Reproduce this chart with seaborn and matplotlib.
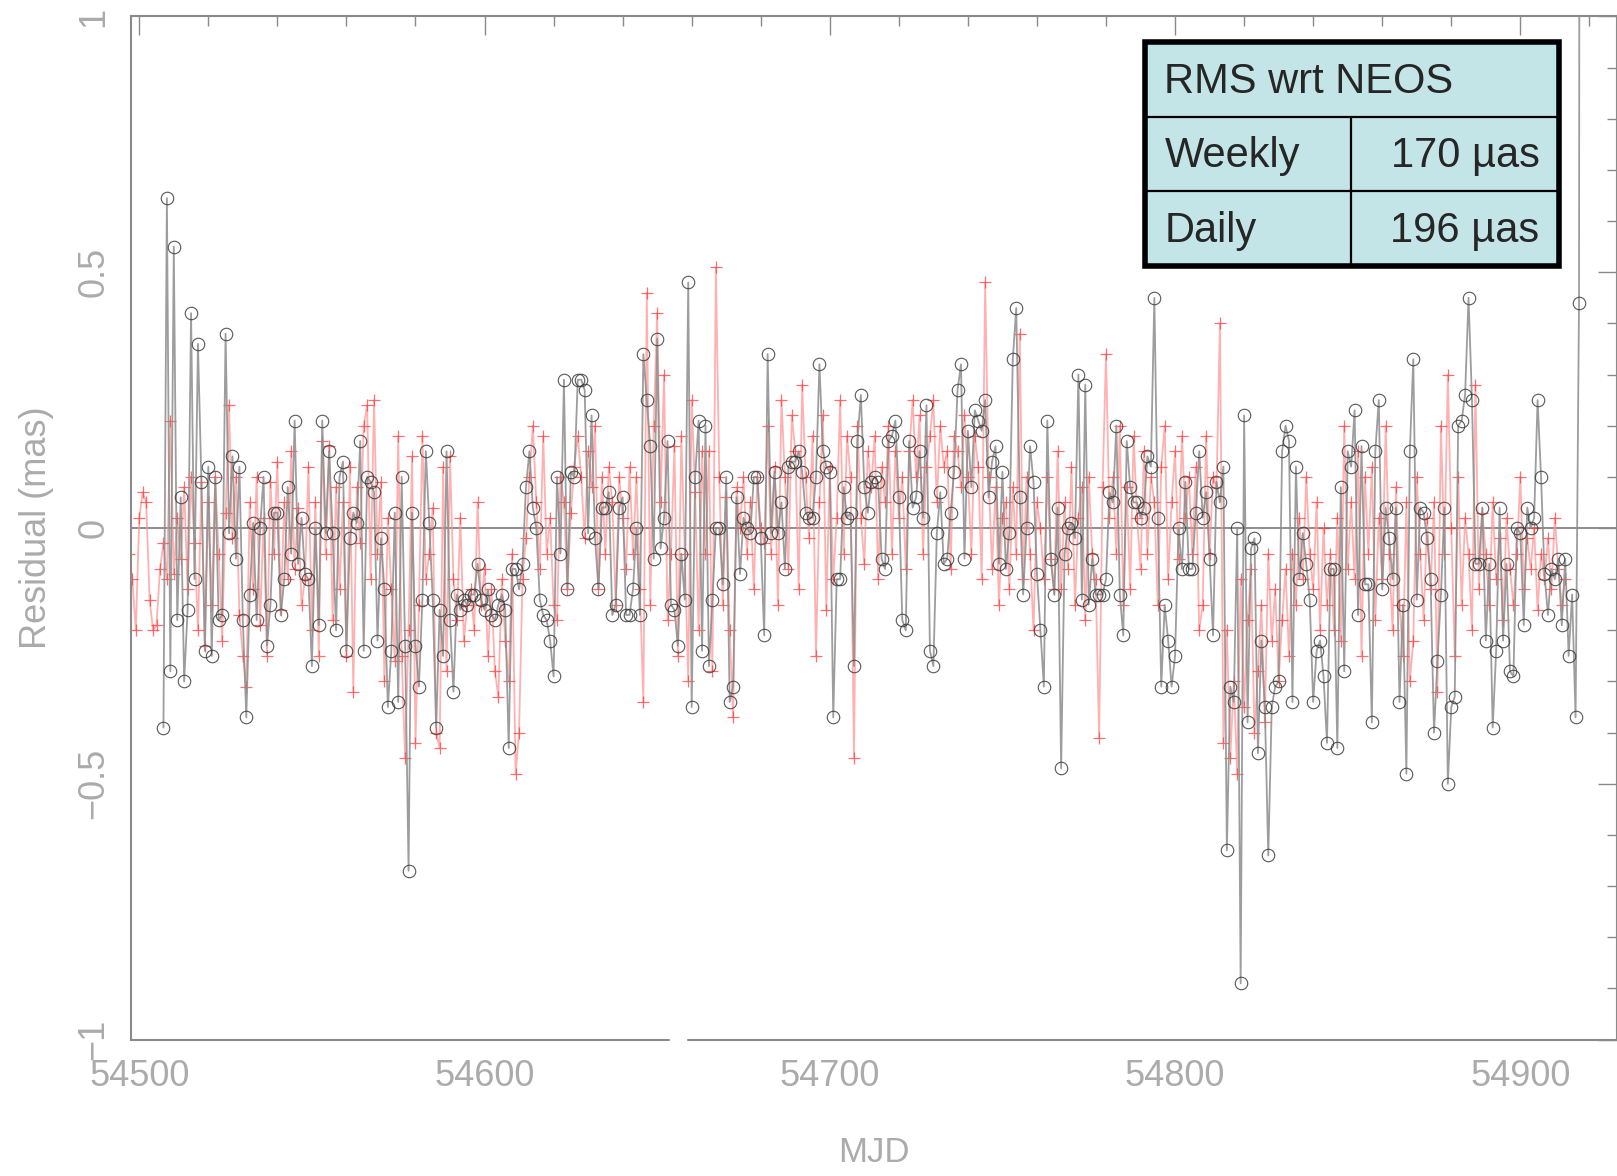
"""
Residuos respecto a NEOS: solución semanal (círculos) y diaria (cruces rojas).
"""

import numpy as np
import pandas as pd
import matplotlib
matplotlib.use("Agg")
import matplotlib.pyplot as plt
from matplotlib.patches import Rectangle
from matplotlib.ticker import MultipleLocator
import seaborn as sns

# --- datos (mas) ---
weekly_start = 54507
weekly_res = [
    -0.39, 0.645, -0.28, 0.55, -0.18, 0.06, -0.30, -0.16, 0.42, -0.10,
    0.36, 0.09, -0.24, 0.12, -0.25, 0.10, -0.18, -0.17, 0.38, -0.01,
    0.14, -0.06, 0.12, -0.18, -0.37, -0.13, 0.01, -0.18, 0.00, 0.10,
    -0.23, -0.15, 0.03, 0.03, -0.17, -0.10, 0.08, -0.05, 0.21, -0.07,
    0.02, -0.09, -0.10, -0.27, 0.00, -0.19, 0.21, -0.01, 0.15, -0.01,
    -0.20, 0.10, 0.13, -0.24, -0.02, 0.03, 0.01, 0.17, -0.24, 0.10,
    0.09, 0.07, -0.22, -0.02, -0.12, -0.35, -0.24, 0.03, -0.34, 0.10,
    -0.23, -0.67, 0.03, -0.23, -0.31, -0.14, 0.15, 0.01, -0.14, -0.39,
    -0.16, -0.25, 0.15, -0.18, -0.32, -0.13, -0.16, -0.14, -0.15, -0.13,
    -0.13, -0.07, -0.14, -0.16, -0.12, -0.17, -0.18, -0.15, -0.13, -0.16,
    -0.43, -0.08, -0.08, -0.12, -0.07, 0.08, 0.15, 0.04, 0.00, -0.14,
    -0.17, -0.18, -0.22, -0.29, 0.10, -0.05, 0.29, -0.12, 0.11, 0.10,
    0.29, 0.29, 0.27, -0.01, 0.22, -0.02, -0.12, 0.04, 0.04, 0.07,
    -0.17, -0.15, 0.04, 0.06, -0.17, -0.17, -0.12, 0.00, -0.17, 0.34,
    0.25, 0.16, -0.06, 0.37, -0.04, 0.02, 0.17, -0.15, -0.16, -0.23,
    -0.05, -0.14, 0.48, -0.35, 0.10, 0.21, -0.24, 0.20, -0.27, -0.14,
    0.00, 0.00, -0.11, 0.10, -0.34, -0.31, 0.06, -0.09, 0.02, 0.00,
    -0.01, 0.10, 0.10, -0.02, -0.21, 0.34, -0.01, 0.11, -0.01, 0.05,
    -0.08, 0.12, 0.13, 0.13, 0.15, 0.11, 0.03, 0.02, 0.02, 0.10,
    0.32, 0.15, 0.12, 0.11, -0.37, -0.10, -0.10, 0.08, 0.02, 0.03,
    -0.27, 0.17, 0.26, 0.08, 0.03, 0.09, 0.10, 0.09, -0.06, -0.08,
    0.17, 0.18, 0.21, 0.06, -0.18, -0.20, 0.17, 0.04, 0.06, 0.15,
    0.02, 0.24, -0.24, -0.27, -0.01, 0.07, -0.07, -0.06, 0.03, 0.11,
    0.27, 0.32, -0.06, 0.19, 0.08, 0.23, 0.21, 0.19, 0.25, 0.06,
    0.13, 0.16, -0.07, 0.11, -0.08, -0.01, 0.33, 0.43, 0.06, -0.13,
    0.00, 0.16, 0.09, -0.09, -0.20, -0.31, 0.21, -0.06, -0.13, 0.04,
    -0.47, -0.05, 0.00, 0.01, -0.02, 0.30, -0.14, 0.28, -0.15, -0.06,
    -0.13, -0.13, -0.13, -0.10, 0.07, 0.05, 0.20, -0.13, -0.21, 0.17,
    0.08, 0.05, 0.05, 0.02, 0.04, 0.14, 0.12, 0.45, 0.02, -0.31,
    -0.15, -0.22, -0.31, -0.25, 0.00, -0.08, 0.09, -0.08, -0.08, 0.03,
    0.15, 0.02, 0.07, -0.06, -0.21, 0.09, 0.05, 0.12, -0.63, -0.31,
    -0.34, 0.00, -0.89, 0.22, -0.38, -0.04, -0.02, -0.44, -0.22, -0.35,
    -0.64, -0.35, -0.31, -0.30, 0.15, 0.20, 0.17, -0.34, 0.12, -0.10,
    -0.01, -0.07, -0.14, -0.34, -0.24, -0.22, -0.29, -0.42, -0.08, -0.08,
    -0.43, 0.08, -0.28, 0.15, 0.12, 0.23, -0.17, 0.16, -0.11, -0.11,
    -0.38, 0.15, 0.25, -0.12, 0.04, -0.02, -0.10, 0.04, -0.34, -0.15,
    -0.48, 0.15, 0.33, -0.14, 0.04, 0.03, -0.02, -0.10, -0.40, -0.26,
    -0.13, 0.04, -0.50, -0.35, -0.33, 0.20, 0.21, 0.26, 0.45, 0.25,
    -0.07, -0.07, 0.04, -0.22, -0.07, -0.39, -0.24, 0.04, -0.22, -0.07,
    -0.28, -0.29, 0.00, -0.01, -0.19, 0.04, 0.00, 0.02, 0.25, 0.10,
    -0.09, -0.17, -0.08, -0.10, -0.06, -0.19, -0.06, -0.25, -0.13, -0.37,
    0.44,
]
# último punto: fuera del gráfico, casi en la misma fecha
weekly_tail_mjd = 54917.15
weekly_tail_res = 1.5

daily_start = 54497
daily_res = [
    -0.05, -0.10, -0.20, 0.02, 0.07, 0.05, -0.14, -0.20, -0.19, -0.08,
    -0.03, -0.10, 0.21, -0.09, 0.02, -0.06, 0.08, -0.12, 0.10, -0.03,
    -0.20, 0.09, -0.23, 0.05, -0.15, 0.10, -0.05, -0.22, 0.03, 0.24,
    -0.02, 0.10, -0.17, -0.25, -0.31, 0.05, -0.12, 0.10, -0.19, 0.02,
    -0.25, 0.09, -0.05, 0.13, -0.16, 0.05, -0.10, 0.15, -0.08, 0.04,
    -0.15, -0.10, 0.12, -0.20, 0.05, -0.25, 0.17, -0.05, 0.16, -0.18,
    0.08, -0.12, 0.05, -0.25, 0.12, -0.32, 0.08, -0.03, 0.20, 0.24,
    -0.10, 0.25, -0.05, 0.09, -0.30, 0.02, -0.12, -0.26, 0.18, -0.25,
    -0.45, -0.20, 0.14, -0.42, -0.15, 0.18, -0.10, -0.05, 0.04, -0.40,
    -0.43, 0.12, -0.28, 0.14, -0.10, -0.18, 0.02, -0.22, -0.15, -0.12,
    -0.20, 0.05, -0.15, -0.08, -0.25, -0.12, -0.28, -0.33, -0.10, -0.22,
    -0.30, -0.05, -0.48, -0.40, -0.10, -0.02, 0.10, 0.20, 0.05, -0.08,
    0.18, -0.05, 0.02, -0.15, -0.18, 0.10, 0.05, -0.12, 0.03, 0.12,
    0.18, 0.10, -0.02, 0.15, 0.08, 0.20, -0.12, 0.10, -0.05, 0.12,
    0.05, -0.15, 0.10, 0.02, -0.08, 0.12, -0.05, 0.10, -0.12, -0.34,
    0.46, -0.15, 0.20, 0.42, 0.05, 0.30, -0.18, -0.05, 0.16, -0.25,
    0.18, -0.05, -0.30, 0.25, 0.07, -0.20, 0.15, -0.05, 0.15, -0.28,
    0.51, 0.10, -0.15, 0.06, -0.20, -0.37, 0.08, 0.00, 0.10, -0.05,
    0.05, -0.12, 0.10, 0.00, -0.03, 0.20, -0.05, 0.12, -0.15, 0.25,
    0.10, -0.08, 0.22, 0.15, -0.12, 0.28, 0.10, -0.02, 0.18, -0.25,
    0.05, 0.22, -0.16, 0.12, -0.10, 0.02, 0.25, -0.05, 0.18, 0.10,
    -0.45, 0.20, 0.02, -0.07, 0.15, 0.08, 0.18, -0.10, 0.12, 0.05,
    0.20, -0.05, 0.15, 0.02, 0.10, -0.08, 0.15, 0.25, 0.10, 0.22,
    -0.05, 0.12, 0.18, 0.25, 0.05, 0.20, 0.12, 0.15, -0.08, 0.18,
    0.15, 0.08, 0.22, 0.10, -0.05, 0.18, 0.12, -0.10, 0.48, 0.10,
    -0.08, 0.08, -0.15, 0.02, 0.05, -0.12, 0.08, -0.05, 0.38, -0.10,
    0.10, -0.05, -0.20, 0.05, 0.00, -0.10, 0.10, -0.06, -0.12, 0.15,
    -0.12, 0.05, -0.08, 0.12, -0.15, 0.02, 0.08, -0.18, 0.10, -0.05,
    -0.10, -0.41, 0.08, 0.34, 0.02, 0.10, -0.05, 0.20, -0.15, 0.08,
    -0.12, 0.18, 0.02, -0.08, 0.15, -0.05, 0.10, 0.05, -0.15, 0.12,
    0.20, -0.10, 0.05, 0.15, -0.06, 0.18, 0.02, 0.10, -0.05, 0.12,
    -0.20, -0.15, 0.18, -0.05, 0.10, 0.08, 0.40, -0.42, -0.20, -0.45,
    -0.30, -0.48, -0.10, -0.35, -0.18, -0.08, -0.40, -0.28, -0.15, -0.38,
    -0.05, -0.22, -0.12, -0.30, -0.18, -0.08, -0.25, -0.05, -0.15, 0.02,
    -0.10, 0.10, -0.05, -0.12, 0.05, -0.20, 0.00, -0.15, -0.05, -0.20,
    0.02, -0.22, 0.20, -0.08, 0.05, -0.10, 0.15, -0.25, 0.10, -0.05,
    0.12, -0.18, 0.02, -0.10, 0.20, -0.05, -0.20, 0.08, -0.15, -0.25,
    0.05, -0.30, -0.22, 0.10, -0.05, -0.18, 0.02, -0.12, 0.05, -0.32,
    0.20, -0.05, 0.30, 0.00, -0.25, 0.10, -0.15, 0.02, -0.05, -0.20,
    0.28, -0.12, 0.03, -0.05, -0.15, 0.05, -0.10, -0.02, -0.18, 0.02,
    -0.08, -0.15, -0.05, 0.10, -0.12, -0.02, -0.08, 0.00, -0.16, -0.05,
    -0.10, -0.02, -0.12, 0.02, -0.08, -0.15, -0.10,
]

table_title = "RMS wrt NEOS"
table_rows = ["Weekly", "Daily"]
table_values = ["170 µas", "196 µas"]

weekly_mjd = np.append(weekly_start + np.arange(len(weekly_res)), weekly_tail_mjd)
weekly = pd.DataFrame({"MJD": weekly_mjd,
                       "res": np.append(weekly_res, weekly_tail_res)})
daily = pd.DataFrame({"MJD": daily_start + np.arange(len(daily_res)),
                      "res": daily_res})

sns.set_style("white")
plt.rcParams["font.family"] = ["Liberation Sans", "DejaVu Sans"]

GRAY_TXT = "#ababab"
SPINE = "#8a8a8a"

fig = plt.figure(figsize=(16.17, 11.76), dpi=100)
ax = fig.add_axes([0.081, 0.116, 0.919, 0.870])

# serie diaria (rojo)
sns.lineplot(data=daily, x="MJD", y="res", ax=ax, sort=False, estimator=None,
             color="#ff8f8f", linewidth=1.3, alpha=0.7, marker="+",
             markersize=8, markeredgecolor="#ff3030", markeredgewidth=0.9)
# serie semanal (negro)
sns.lineplot(data=weekly, x="MJD", y="res", ax=ax, sort=False, estimator=None,
             color="#8c8c8c", linewidth=1.3, alpha=0.85, marker="o",
             markersize=9, markerfacecolor="none", markeredgecolor="#3a3a3a",
             markeredgewidth=0.8)

ax.axhline(0, color="#7a7a7a", lw=1.2, zorder=0)

ax.set_xlim(54497.6, 54928)
ax.set_ylim(-1, 1)

ax.xaxis.set_major_locator(MultipleLocator(100))
ax.xaxis.set_minor_locator(MultipleLocator(20))
ax.yaxis.set_major_locator(MultipleLocator(0.5))
ax.yaxis.set_minor_locator(MultipleLocator(0.1))
ax.tick_params(which="both", direction="in", top=True, right=True,
               color=SPINE, labelcolor=GRAY_TXT)
ax.tick_params(which="major", length=14, width=1.0, labelsize=26, pad=14)
ax.tick_params(which="minor", length=7, width=1.0)
ax.set_yticks([-1, -0.5, 0, 0.5, 1])
ax.set_yticklabels(["\u22121", "\u22120.5", "0", "0.5", "1"],
                   rotation=90, va="center")
ax.set_xticklabels([f"{int(t)}" for t in ax.get_xticks()])

for side in ["left", "top", "right"]:
    ax.spines[side].set_color(SPINE)
    ax.spines[side].set_linewidth(1.5)
ax.spines["bottom"].set_visible(False)
# eje inferior cortado como en el original
gap = (54653.5, 54659)
tr = ax.get_xaxis_transform()
ax.plot([54497.6, gap[0]], [0, 0], color=SPINE, lw=1.5, transform=tr,
        clip_on=False)
ax.plot([gap[1], 54928], [0, 0], color=SPINE, lw=1.5, transform=tr,
        clip_on=False)

ax.set_xlabel("MJD", color=GRAY_TXT, fontsize=25, labelpad=30)
ax.set_ylabel("Residual (mas)", color=GRAY_TXT, fontsize=26, labelpad=16)

# tabla RMS
x0, x1, xm = 1145 / 1617, 1559 / 1617, 1351 / 1617
y_top, y_r1, y_r2, y_bot = 1 - 42 / 1176, 1 - 117 / 1176, 1 - 191 / 1176, 1 - 266 / 1176
fig.patches.append(Rectangle((x0, y_bot), x1 - x0, y_top - y_bot,
                             transform=fig.transFigure, facecolor="#c4e5e7",
                             edgecolor="black", lw=4, zorder=10))
for yy in (y_r1, y_r2):
    fig.add_artist(plt.Line2D([x0, x1], [yy, yy], transform=fig.transFigure,
                              color="black", lw=1.6, zorder=11))
fig.add_artist(plt.Line2D([xm, xm], [y_bot, y_r1], transform=fig.transFigure,
                          color="black", lw=1.6, zorder=11))
fs = 30
fig.text(x0 + 0.012, (y_top + y_r1) / 2 - 0.002, table_title, fontsize=fs,
         va="center", ha="left", zorder=12)
for i, (lab, val) in enumerate(zip(table_rows, table_values)):
    yc = [(y_r1 + y_r2) / 2, (y_r2 + y_bot) / 2][i] - 0.002
    fig.text(x0 + 0.012, yc, lab, fontsize=fs, va="center", ha="left", zorder=12)
    fig.text(x1 - 0.012, yc, val, fontsize=fs, va="center", ha="right", zorder=12)

fig.savefig("out.png", dpi=100)
